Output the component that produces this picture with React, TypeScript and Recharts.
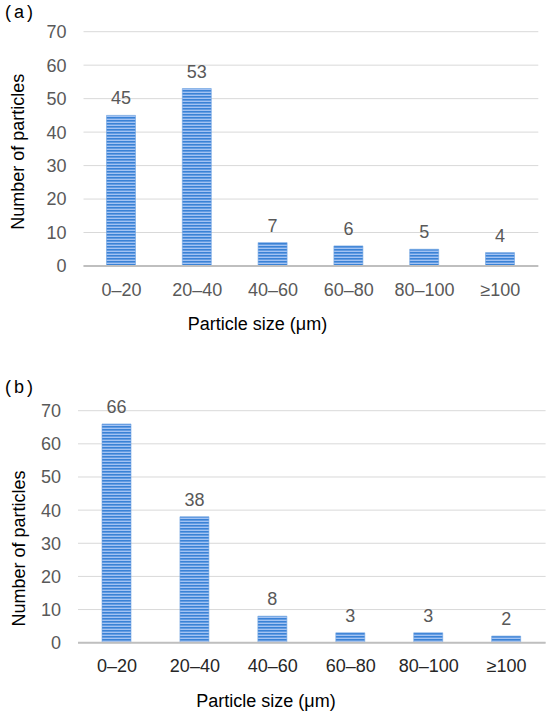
import React from "react";
import {
  BarChart,
  Bar,
  XAxis,
  YAxis,
  CartesianGrid,
  LabelList,
} from "recharts";

const sizeBins = ["0–20", "20–40", "40–60", "60–80", "80–100", "≥100"];
const countsA = [45, 53, 7, 6, 5, 4];
const countsB = [66, 38, 8, 3, 3, 2];
const countTicks = [0, 10, 20, 30, 40, 50, 60, 70];

const FONT = "'Liberation Sans', Arial, sans-serif";
const GRAY = "#595959";

const dataA = sizeBins.map((bin, i) => ({ bin, count: countsA[i] }));
const dataB = sizeBins.map((bin, i) => ({ bin, count: countsB[i] }));

function StripeDefs({ id }: { id: string }) {
  return (
    <defs>
      <pattern id={id} width="6" height="3" patternUnits="userSpaceOnUse">
        <rect x="0" y="0" width="6" height="3" fill="#a3c3f3" />
        <rect x="0" y="0" width="6" height="1.6" fill="#3a82d6" />
      </pattern>
    </defs>
  );
}

function Panel({
  data,
  tag,
  pattern,
  margin,
  yWidth,
  xHeight,
  xTickColor,
  xTitleX,
  yTitleY,
  yTitleX,
}: {
  data: { bin: string; count: number }[];
  tag: string;
  pattern: string;
  margin: { top: number; right: number; left: number; bottom: number };
  yWidth: number;
  xHeight: number;
  xTickColor: string;
  xTitleX: number;
  yTitleY: number;
  yTitleX: number;
}) {
  return (
    <div style={{ position: "relative", width: 550, height: 357 }}>
      <div
        style={{
          position: "absolute",
          left: 5,
          top: tag === "(a)" ? 2 : 20,
          fontFamily: FONT,
          fontSize: 18,
          letterSpacing: 3,
          color: "#000",
        }}
      >
        {tag}
      </div>
      <BarChart width={550} height={357} data={data} margin={margin} barSize={29}>
        <StripeDefs id={pattern} />
        <CartesianGrid vertical={false} stroke="#d9d9d9" strokeWidth={1} />
        <XAxis
          dataKey="bin"
          height={xHeight}
          tickLine={false}
          tickSize={0}
          tickMargin={17}
          axisLine={{ stroke: "#bfbfbf", strokeWidth: 2 }}
          tick={{ fill: xTickColor, fontSize: 18, fontFamily: FONT }}
          interval={0}
          label={{
            content: () => (
              <text
                x={xTitleX}
                y={margin.top + (357 - margin.top - xHeight) + 64}
                textAnchor="middle"
                fontSize={18}
                fontFamily={FONT}
                fill="#000"
              >
                Particle size (μm)
              </text>
            ),
          }}
        />
        <YAxis
          width={yWidth}
          domain={[0, 70]}
          ticks={countTicks}
          tickLine={false}
          axisLine={false}
          tickSize={0}
          tickMargin={17}
          tick={{ fill: GRAY, fontSize: 18, fontFamily: FONT }}
          label={{
            content: () => (
              <text
                x={yTitleX}
                y={yTitleY}
                transform={`rotate(-90 ${yTitleX} ${yTitleY})`}
                textAnchor="middle"
                dominantBaseline="central"
                fontSize={18}
                fontFamily={FONT}
                fill="#000"
              >
                Number of particles
              </text>
            ),
          }}
        />
        <Bar
          dataKey="count"
          fill={`url(#${pattern})`}
          stroke="#6fa3e0"
          strokeWidth={0.6}
          isAnimationActive={false}
        >
          <LabelList
            dataKey="count"
            position="top"
            offset={11}
            fill={GRAY}
            fontSize={18}
            fontFamily={FONT}
          />
        </Bar>
      </BarChart>
    </div>
  );
}

export default function App() {
  return (
    <div
      style={{
        position: "absolute",
        left: 0,
        top: 0,
        width: 550,
        height: 714,
        background: "#fff",
        overflow: "hidden",
      }}
    >
      <Panel
        data={dataA}
        tag="(a)"
        pattern="stripesA"
        margin={{ top: 31.7, right: 11.7, left: 0, bottom: 0 }}
        yWidth={83.5}
        xHeight={91}
        xTickColor={GRAY}
        xTitleX={257.5}
        yTitleX={18}
        yTitleY={151.7}
      />
      <Panel
        data={dataB}
        tag="(b)"
        pattern="stripesB"
        margin={{ top: 53.7, right: 4.4, left: 0, bottom: 0 }}
        yWidth={78}
        xHeight={71.3}
        xTickColor="#262626"
        xTitleX={266}
        yTitleX={19.3}
        yTitleY={191.6}
      />
    </div>
  );
}
